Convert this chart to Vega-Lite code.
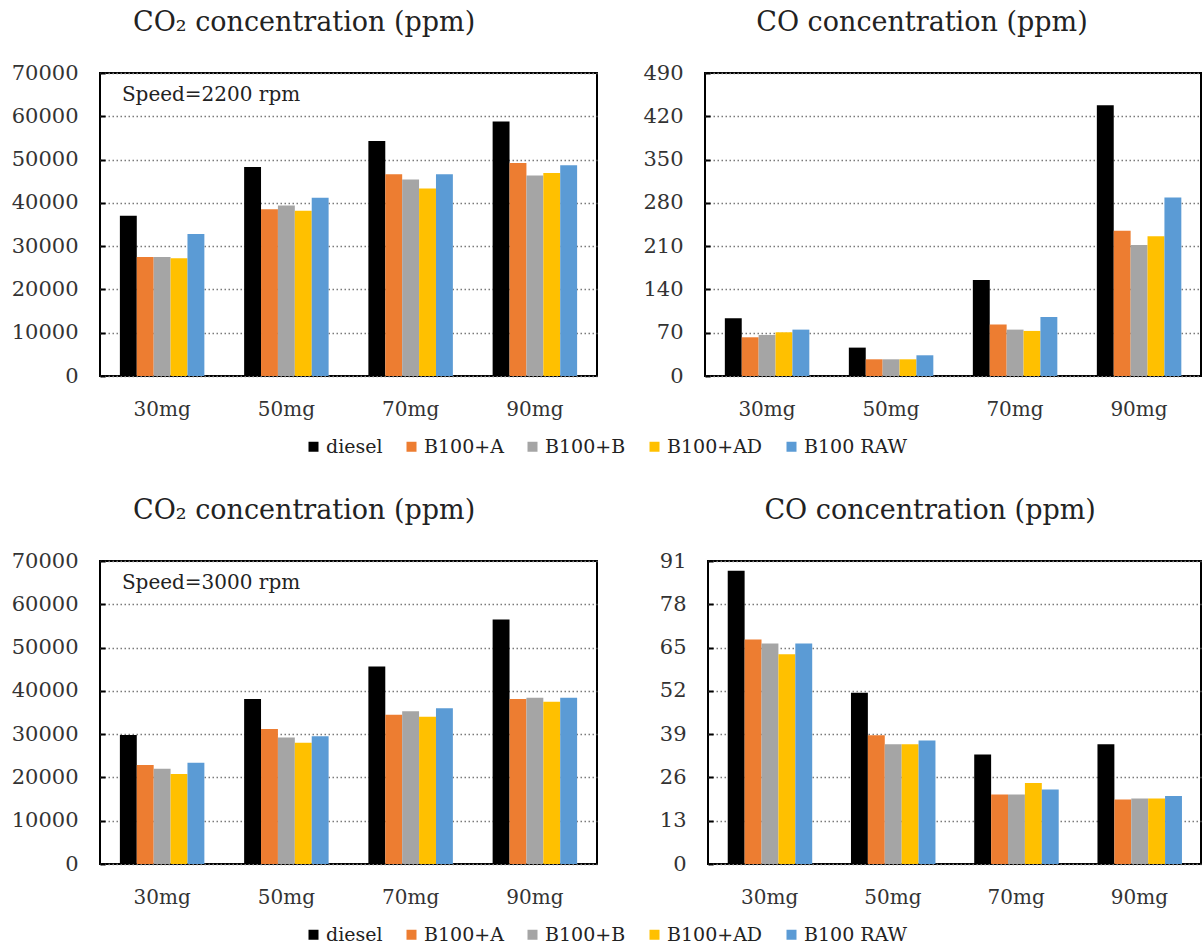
{
  "$schema": "https://vega.github.io/schema/vega-lite/v6.json",
  "background": "white",
  "padding": {"left": 10, "top": 8, "right": 0, "bottom": 0},
  "datasets": {
    "co2_2200": [
      {"load": "30mg", "fuel": "diesel", "ppm": 37000},
      {"load": "30mg", "fuel": "B100+A", "ppm": 27500},
      {"load": "30mg", "fuel": "B100+B", "ppm": 27500},
      {"load": "30mg", "fuel": "B100+AD", "ppm": 27200},
      {"load": "30mg", "fuel": "B100 RAW", "ppm": 32800},
      {"load": "50mg", "fuel": "diesel", "ppm": 48300},
      {"load": "50mg", "fuel": "B100+A", "ppm": 38500},
      {"load": "50mg", "fuel": "B100+B", "ppm": 39400},
      {"load": "50mg", "fuel": "B100+AD", "ppm": 38200},
      {"load": "50mg", "fuel": "B100 RAW", "ppm": 41200},
      {"load": "70mg", "fuel": "diesel", "ppm": 54300},
      {"load": "70mg", "fuel": "B100+A", "ppm": 46600},
      {"load": "70mg", "fuel": "B100+B", "ppm": 45400},
      {"load": "70mg", "fuel": "B100+AD", "ppm": 43300},
      {"load": "70mg", "fuel": "B100 RAW", "ppm": 46600},
      {"load": "90mg", "fuel": "diesel", "ppm": 58800},
      {"load": "90mg", "fuel": "B100+A", "ppm": 49200},
      {"load": "90mg", "fuel": "B100+B", "ppm": 46300},
      {"load": "90mg", "fuel": "B100+AD", "ppm": 46900},
      {"load": "90mg", "fuel": "B100 RAW", "ppm": 48700}
    ],
    "co_2200": [
      {"load": "30mg", "fuel": "diesel", "ppm": 93.4},
      {"load": "30mg", "fuel": "B100+A", "ppm": 62.6},
      {"load": "30mg", "fuel": "B100+B", "ppm": 66.4},
      {"load": "30mg", "fuel": "B100+AD", "ppm": 70.7},
      {"load": "30mg", "fuel": "B100 RAW", "ppm": 75.0},
      {"load": "50mg", "fuel": "diesel", "ppm": 45.9},
      {"load": "50mg", "fuel": "B100+A", "ppm": 27.0},
      {"load": "50mg", "fuel": "B100+B", "ppm": 27.0},
      {"load": "50mg", "fuel": "B100+AD", "ppm": 27.0},
      {"load": "50mg", "fuel": "B100 RAW", "ppm": 33.5},
      {"load": "70mg", "fuel": "diesel", "ppm": 155.4},
      {"load": "70mg", "fuel": "B100+A", "ppm": 83.1},
      {"load": "70mg", "fuel": "B100+B", "ppm": 75.0},
      {"load": "70mg", "fuel": "B100+AD", "ppm": 72.9},
      {"load": "70mg", "fuel": "B100 RAW", "ppm": 95.5},
      {"load": "90mg", "fuel": "diesel", "ppm": 437.7},
      {"load": "90mg", "fuel": "B100+A", "ppm": 234.8},
      {"load": "90mg", "fuel": "B100+B", "ppm": 212.0},
      {"load": "90mg", "fuel": "B100+AD", "ppm": 226.0},
      {"load": "90mg", "fuel": "B100 RAW", "ppm": 288.7}
    ],
    "co2_3000": [
      {"load": "30mg", "fuel": "diesel", "ppm": 29800},
      {"load": "30mg", "fuel": "B100+A", "ppm": 22900},
      {"load": "30mg", "fuel": "B100+B", "ppm": 22000},
      {"load": "30mg", "fuel": "B100+AD", "ppm": 20800},
      {"load": "30mg", "fuel": "B100 RAW", "ppm": 23400},
      {"load": "50mg", "fuel": "diesel", "ppm": 38100},
      {"load": "50mg", "fuel": "B100+A", "ppm": 31200},
      {"load": "50mg", "fuel": "B100+B", "ppm": 29200},
      {"load": "50mg", "fuel": "B100+AD", "ppm": 28000},
      {"load": "50mg", "fuel": "B100 RAW", "ppm": 29500},
      {"load": "70mg", "fuel": "diesel", "ppm": 45600},
      {"load": "70mg", "fuel": "B100+A", "ppm": 34500},
      {"load": "70mg", "fuel": "B100+B", "ppm": 35300},
      {"load": "70mg", "fuel": "B100+AD", "ppm": 34000},
      {"load": "70mg", "fuel": "B100 RAW", "ppm": 36000},
      {"load": "90mg", "fuel": "diesel", "ppm": 56500},
      {"load": "90mg", "fuel": "B100+A", "ppm": 38100},
      {"load": "90mg", "fuel": "B100+B", "ppm": 38400},
      {"load": "90mg", "fuel": "B100+AD", "ppm": 37500},
      {"load": "90mg", "fuel": "B100 RAW", "ppm": 38400}
    ],
    "co_3000": [
      {"load": "30mg", "fuel": "diesel", "ppm": 88.1},
      {"load": "30mg", "fuel": "B100+A", "ppm": 67.4},
      {"load": "30mg", "fuel": "B100+B", "ppm": 66.2},
      {"load": "30mg", "fuel": "B100+AD", "ppm": 63.0},
      {"load": "30mg", "fuel": "B100 RAW", "ppm": 66.2},
      {"load": "50mg", "fuel": "diesel", "ppm": 51.4},
      {"load": "50mg", "fuel": "B100+A", "ppm": 38.7},
      {"load": "50mg", "fuel": "B100+B", "ppm": 36.0},
      {"load": "50mg", "fuel": "B100+AD", "ppm": 36.0},
      {"load": "50mg", "fuel": "B100 RAW", "ppm": 37.1},
      {"load": "70mg", "fuel": "diesel", "ppm": 32.9},
      {"load": "70mg", "fuel": "B100+A", "ppm": 20.9},
      {"load": "70mg", "fuel": "B100+B", "ppm": 20.9},
      {"load": "70mg", "fuel": "B100+AD", "ppm": 24.3},
      {"load": "70mg", "fuel": "B100 RAW", "ppm": 22.4},
      {"load": "90mg", "fuel": "diesel", "ppm": 36.0},
      {"load": "90mg", "fuel": "B100+A", "ppm": 19.4},
      {"load": "90mg", "fuel": "B100+B", "ppm": 19.7},
      {"load": "90mg", "fuel": "B100+AD", "ppm": 19.7},
      {"load": "90mg", "fuel": "B100 RAW", "ppm": 20.4}
    ]
  },
  "config": {
    "font": "DejaVu Serif",
    "view": {"stroke": "black", "strokeWidth": 2},
    "title": {"fontSize": 27, "fontWeight": "normal", "color": "#222222", "offset": 25, "frame": "bounds"},
    "axis": {
      "labelFont": "DejaVu Serif",
      "labelFontSize": 21,
      "labelColor": "#333333",
      "domain": false,
      "ticks": false,
      "grid": false,
      "title": null
    },
    "axisY": {
      "grid": true,
      "gridDash": [1.5, 2.5],
      "gridColor": "#7a7a7a",
      "gridWidth": 1.5,
      "ticks": true,
      "tickSize": -5,
      "tickWidth": 2,
      "tickColor": "black",
      "labelPadding": 27
    },
    "axisX": {"labelPadding": 23, "labelAngle": 0, "labelFontSize": 20},
    "legend": {
      "orient": "bottom",
      "direction": "horizontal",
      "title": null,
      "symbolType": "square",
      "symbolSize": 100,
      "symbolStrokeWidth": 0,
      "labelFont": "DejaVu Serif",
      "labelFontSize": 19,
      "labelColor": "#222222",
      "columnPadding": 19,
      "labelOffset": 3,
      "offset": 17,
      "layout": {"bottom": {"anchor": "middle"}}
    }
  },
  "spacing": 39,
  "resolve": {"scale": {"color": "independent"}},
  "vconcat": [
    {
      "spacing": 43,
      "hconcat": [
        {
          "width": 497,
          "height": 303,
          "title": "CO₂ concentration (ppm)",
          "layer": [
            {
              "data": {"name": "co2_2200"},
              "mark": {"type": "bar"},
              "encoding": {
                "x": {"field": "load", "type": "nominal", "sort": ["30mg", "50mg", "70mg", "90mg"], "scale": {"paddingInner": 0.32, "paddingOuter": 0.16}},
                "xOffset": {"field": "fuel", "type": "nominal", "sort": ["diesel", "B100+A", "B100+B", "B100+AD", "B100 RAW"]},
                "y": {"field": "ppm", "type": "quantitative", "scale": {"domain": [0, 70000], "nice": false}, "axis": {"values": [0, 10000, 20000, 30000, 40000, 50000, 60000, 70000], "format": "d"}},
                "color": {"field": "fuel", "type": "nominal", "sort": ["diesel", "B100+A", "B100+B", "B100+AD", "B100 RAW"], "scale": {"domain": ["diesel", "B100+A", "B100+B", "B100+AD", "B100 RAW"], "range": ["#000000", "#ED7D31", "#A5A5A5", "#FFC000", "#5B9BD5"]}}
              }
            },
            {
              "data": {"values": [{"note": "Speed=2200 rpm"}]},
              "mark": {"type": "text", "align": "left", "baseline": "middle", "dx": 2, "fontSize": 20, "color": "#222222"},
              "encoding": {
                "x": {"datum": "30mg", "type": "nominal", "bandPosition": 0},
                "y": {"datum": 65000, "type": "quantitative"},
                "text": {"field": "note"}
              }
            }
          ]
        },
        {
          "width": 496,
          "height": 303,
          "title": "CO concentration (ppm)",
          "data": {"name": "co_2200"},
          "mark": {"type": "bar"},
          "encoding": {
            "x": {"field": "load", "type": "nominal", "sort": ["30mg", "50mg", "70mg", "90mg"], "scale": {"paddingInner": 0.32, "paddingOuter": 0.16}},
            "xOffset": {"field": "fuel", "type": "nominal", "sort": ["diesel", "B100+A", "B100+B", "B100+AD", "B100 RAW"]},
            "y": {"field": "ppm", "type": "quantitative", "scale": {"domain": [0, 490], "nice": false}, "axis": {"values": [0, 70, 140, 210, 280, 350, 420, 490]}},
            "color": {"field": "fuel", "type": "nominal", "sort": ["diesel", "B100+A", "B100+B", "B100+AD", "B100 RAW"], "scale": {"domain": ["diesel", "B100+A", "B100+B", "B100+AD", "B100 RAW"], "range": ["#000000", "#ED7D31", "#A5A5A5", "#FFC000", "#5B9BD5"]}}
          }
        }
      ]
    },
    {
      "spacing": 60,
      "hconcat": [
        {
          "width": 497,
          "height": 303,
          "title": "CO₂ concentration (ppm)",
          "layer": [
            {
              "data": {"name": "co2_3000"},
              "mark": {"type": "bar"},
              "encoding": {
                "x": {"field": "load", "type": "nominal", "sort": ["30mg", "50mg", "70mg", "90mg"], "scale": {"paddingInner": 0.32, "paddingOuter": 0.16}},
                "xOffset": {"field": "fuel", "type": "nominal", "sort": ["diesel", "B100+A", "B100+B", "B100+AD", "B100 RAW"]},
                "y": {"field": "ppm", "type": "quantitative", "scale": {"domain": [0, 70000], "nice": false}, "axis": {"values": [0, 10000, 20000, 30000, 40000, 50000, 60000, 70000], "format": "d"}},
                "color": {"field": "fuel", "type": "nominal", "sort": ["diesel", "B100+A", "B100+B", "B100+AD", "B100 RAW"], "scale": {"domain": ["diesel", "B100+A", "B100+B", "B100+AD", "B100 RAW"], "range": ["#000000", "#ED7D31", "#A5A5A5", "#FFC000", "#5B9BD5"]}}
              }
            },
            {
              "data": {"values": [{"note": "Speed=3000 rpm"}]},
              "mark": {"type": "text", "align": "left", "baseline": "middle", "dx": 2, "fontSize": 20, "color": "#222222"},
              "encoding": {
                "x": {"datum": "30mg", "type": "nominal", "bandPosition": 0},
                "y": {"datum": 65000, "type": "quantitative"},
                "text": {"field": "note"}
              }
            }
          ]
        },
        {
          "width": 493,
          "height": 303,
          "title": "CO concentration (ppm)",
          "data": {"name": "co_3000"},
          "mark": {"type": "bar"},
          "encoding": {
            "x": {"field": "load", "type": "nominal", "sort": ["30mg", "50mg", "70mg", "90mg"], "scale": {"paddingInner": 0.32, "paddingOuter": 0.16}},
            "xOffset": {"field": "fuel", "type": "nominal", "sort": ["diesel", "B100+A", "B100+B", "B100+AD", "B100 RAW"]},
            "y": {"field": "ppm", "type": "quantitative", "scale": {"domain": [0, 91], "nice": false}, "axis": {"values": [0, 13, 26, 39, 52, 65, 78, 91]}},
            "color": {"field": "fuel", "type": "nominal", "sort": ["diesel", "B100+A", "B100+B", "B100+AD", "B100 RAW"], "scale": {"domain": ["diesel", "B100+A", "B100+B", "B100+AD", "B100 RAW"], "range": ["#000000", "#ED7D31", "#A5A5A5", "#FFC000", "#5B9BD5"]}}
          }
        }
      ]
    }
  ]
}
